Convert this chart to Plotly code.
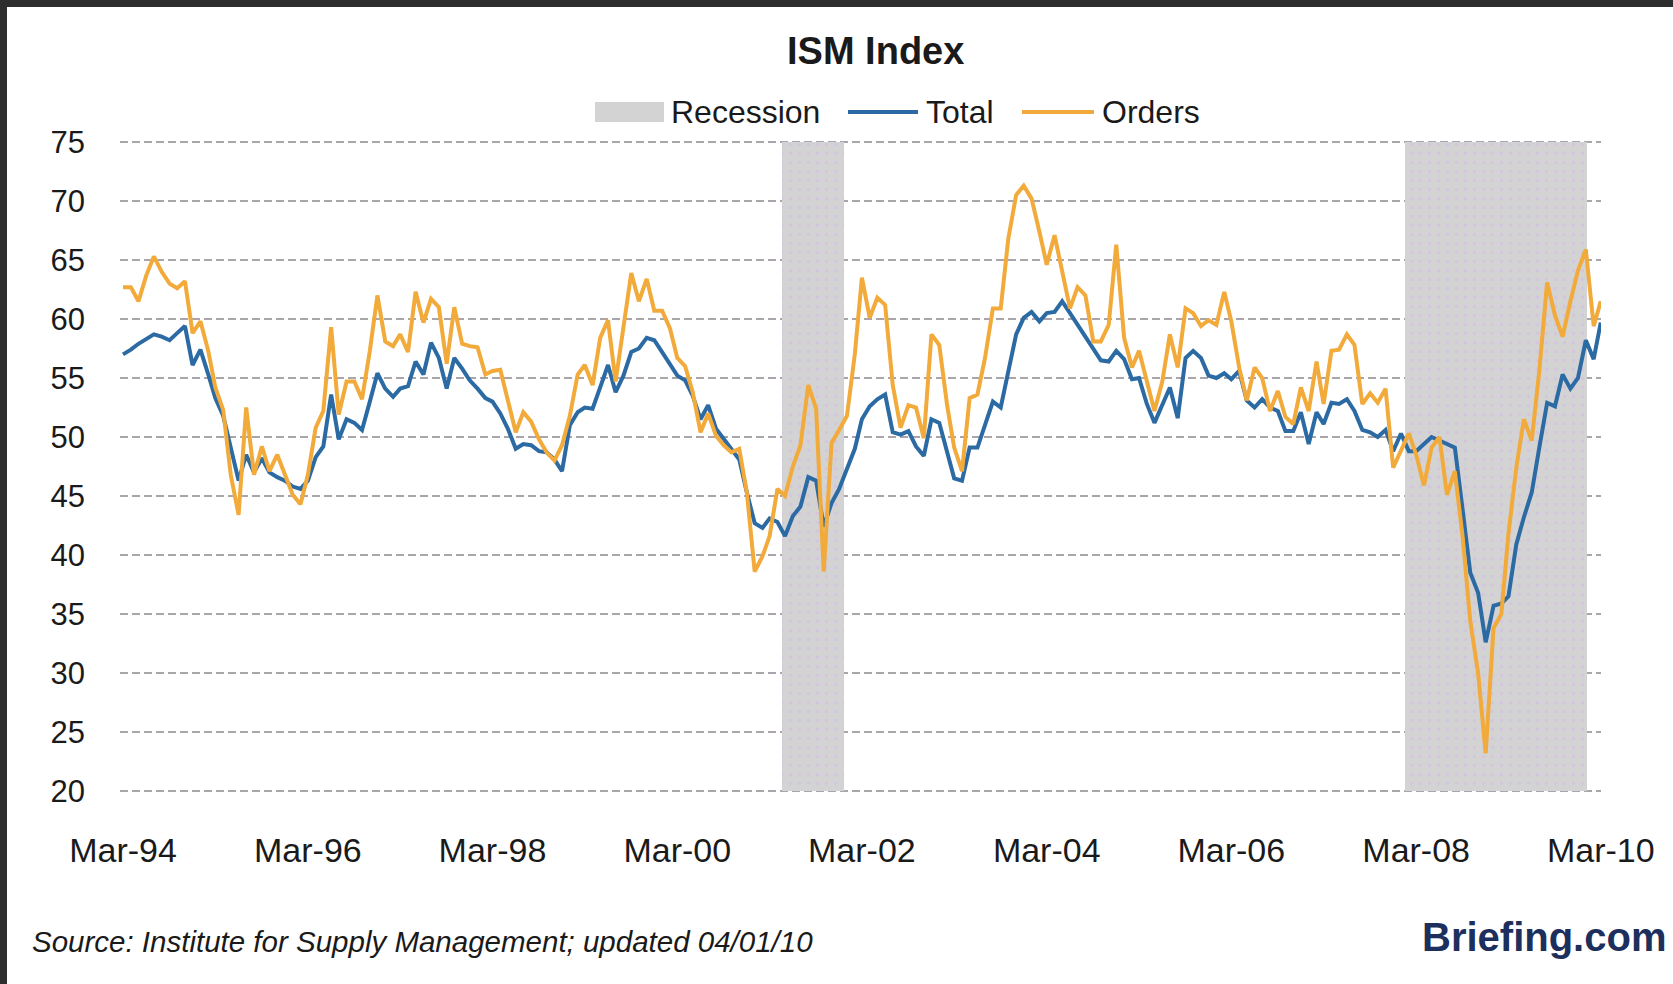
import pandas as pd
import plotly.graph_objects as go

# ---------------- data ----------------
start_month = "1994-03-01"   # first observation (Mar-94), monthly through Mar-10

total = [57.0, 57.4, 57.9, 58.3, 58.7, 58.5, 58.2, 58.8, 59.4, 56.1,
         57.4, 55.3, 53.3, 51.8, 49.1, 46.3, 48.5, 47.0, 48.2, 47.0,
         46.6, 46.3, 45.8, 45.6, 46.3, 48.3, 49.2, 53.6, 49.8, 51.5,
         51.2, 50.6, 53.0, 55.4, 54.1, 53.4, 54.1, 54.3, 56.4, 55.3,
         58.0, 56.7, 54.1, 56.7, 55.8, 54.8, 54.1, 53.3, 53.0, 52.0,
         50.7, 49.0, 49.4, 49.3, 48.8, 48.7, 48.1, 47.1, 51.0, 52.1,
         52.5, 52.4, 54.2, 56.1, 53.8, 55.2, 57.2, 57.5, 58.4, 58.2,
         57.2, 56.1, 55.2, 54.8, 53.5, 51.5, 52.7, 50.7, 49.8, 49.0,
         48.1, 45.3, 42.7, 42.3, 43.1, 42.8, 41.6, 43.3, 44.1, 46.6,
         46.3, 42.4, 44.4, 45.6, 47.3, 49.0, 51.5, 52.6, 53.2, 53.6,
         50.4, 50.2, 50.5, 49.2, 48.4, 51.5, 51.2, 48.8, 46.5, 46.3,
         49.1, 49.1, 51.1, 53.0, 52.5, 55.6, 58.7, 60.1, 60.6, 59.8,
         60.5, 60.6, 61.5, 60.5, 59.5, 58.4, 57.4, 56.5, 56.4, 57.3,
         56.6, 54.9, 55.0, 52.8, 51.2, 52.8, 54.2, 51.6, 56.7, 57.3,
         56.7, 55.2, 55.0, 55.4, 54.9, 55.6, 53.1, 52.5, 53.2, 52.5,
         52.2, 50.5, 50.5, 52.1, 49.4, 52.1, 51.1, 52.9, 52.8, 53.2,
         52.2, 50.6, 50.4, 50.0, 50.6, 48.8, 50.3, 48.8, 48.8, 49.4,
         50.0, 49.7, 49.4, 49.1, 43.8, 38.5, 36.8, 32.6, 35.7, 35.9,
         36.5, 40.9, 43.2, 45.3, 49.1, 52.9, 52.6, 55.3, 54.1, 55.0,
         58.2, 56.6, 59.7]

orders = [62.7, 62.7, 61.5, 63.7, 65.3, 64.0, 63.0, 62.6, 63.2, 58.8,
          59.8, 57.3, 54.2, 52.3, 46.8, 43.4, 52.5, 46.8, 49.2, 47.1,
          48.5, 46.8, 45.1, 44.3, 46.8, 50.8, 52.2, 59.3, 51.9, 54.7,
          54.7, 53.2, 57.3, 62.0, 58.1, 57.7, 58.7, 57.2, 62.3, 59.7,
          61.7, 61.0, 56.2, 61.0, 57.9, 57.7, 57.6, 55.3, 55.6, 55.7,
          53.0, 50.4, 52.1, 51.3, 49.8, 48.7, 48.0, 49.3, 51.8, 55.3,
          56.1, 54.4, 58.4, 59.9, 54.7, 59.5, 63.9, 61.5, 63.4, 60.7,
          60.7, 59.2, 56.7, 56.0, 53.8, 50.4, 52.0, 50.1, 49.3, 48.7,
          49.0, 45.3, 38.6, 39.9, 41.6, 45.6, 45.0, 47.5, 49.3, 54.4,
          52.4, 38.6, 49.5, 50.6, 51.8, 57.0, 63.5, 60.1, 61.8, 61.2,
          54.4, 50.8, 52.7, 52.5, 49.9, 58.7, 57.8, 52.7, 49.1, 47.1,
          53.3, 53.6, 56.7, 60.9, 60.9, 66.8, 70.5, 71.3, 70.2, 67.4,
          64.6, 67.1, 64.0, 60.9, 62.7, 62.0, 58.1, 58.1, 59.5, 66.3,
          58.4, 55.9, 57.3, 54.7, 52.2, 54.7, 58.7, 55.9, 60.9, 60.5,
          59.4, 59.9, 59.5, 62.3, 59.8, 55.9, 53.1, 55.9, 55.0, 52.2,
          53.9, 51.7, 51.1, 54.2, 52.2, 56.4, 52.8, 57.3, 57.4, 58.7,
          57.8, 52.8, 53.7, 52.9, 54.1, 47.4, 48.8, 50.3, 48.5, 45.9,
          49.1, 50.0, 45.1, 47.1, 41.5, 34.4, 30.0, 23.2, 33.8, 35.0,
          41.8, 47.4, 51.5, 49.7, 55.6, 63.1, 60.3, 58.5, 61.5, 64.1,
          65.9, 59.4, 61.5]

recession_start = ["2001-04-20", "2008-01-18"]
recession_end = ["2001-12-21", "2010-01-07"]

tick_dates = ["1994-03-01", "1996-03-01", "1998-03-01", "2000-03-01", "2002-03-01",
              "2004-03-01", "2006-03-01", "2008-03-01", "2010-03-01"]
tick_labels = ["Mar-94", "Mar-96", "Mar-98", "Mar-00", "Mar-02",
               "Mar-04", "Mar-06", "Mar-08", "Mar-10"]

series_names = ["Recession", "Total", "Orders"]
series_colors = ["#d3d3d4", "#2b6aa3", "#f2aa3a"]

y_min, y_max = 20, 75

# ---------------- build ----------------
dates = pd.date_range(start_month, periods=len(total), freq="MS")
rs = pd.to_datetime(recession_start)
re_ = pd.to_datetime(recession_end)
rec_center = rs + (re_ - rs) / 2
rec_width = [(e - s).total_seconds() * 1000 for s, e in zip(rs, re_)]

FONT = "Liberation Sans"
TXT = "#1a1a1a"
fig = go.Figure()

fig.add_trace(go.Bar(
    x=rec_center, y=[y_max - y_min] * len(rs), base=[y_min] * len(rs), width=rec_width,
    name=series_names[0], showlegend=False,
    marker=dict(color=series_colors[0], line=dict(width=0),
                pattern=dict(shape=".", fgcolor="#d4b8e8", size=9, solidity=0.12)),
    hoverinfo="skip"))
fig.add_trace(go.Scatter(x=dates, y=total, name=series_names[1], mode="lines", showlegend=False,
                         line=dict(color=series_colors[1], width=4)))
fig.add_trace(go.Scatter(x=dates, y=orders, name=series_names[2], mode="lines", showlegend=False,
                         line=dict(color=series_colors[2], width=4)))

L, R, T, B = 120, 72, 140, 191
W, H = 1673, 984
pw, ph = W - L - R, H - T - B


def px(xp):
    return (xp - L) / pw


def py(yp):
    return (H - B - yp) / ph


# legend drawn as shapes + text (wide swatches like the original)
leg_y = 112
legend_shapes = [
    dict(type="rect", xref="paper", yref="paper", x0=px(595), x1=px(664), y0=py(122), y1=py(102),
         fillcolor=series_colors[0], line=dict(width=0)),
    dict(type="line", xref="paper", yref="paper", x0=px(848), x1=px(918), y0=py(leg_y), y1=py(leg_y),
         line=dict(color=series_colors[1], width=4)),
    dict(type="line", xref="paper", yref="paper", x0=px(1022), x1=px(1094), y0=py(leg_y), y1=py(leg_y),
         line=dict(color=series_colors[2], width=4)),
]
legend_text = [
    dict(text=series_names[0], x=px(669), y=py(leg_y), xref="paper", yref="paper", showarrow=False,
         xanchor="left", yanchor="middle", font=dict(size=32, family=FONT, color=TXT)),
    dict(text=series_names[1], x=px(924), y=py(leg_y), xref="paper", yref="paper", showarrow=False,
         xanchor="left", yanchor="middle", font=dict(size=32, family=FONT, color=TXT)),
    dict(text=series_names[2], x=px(1100), y=py(leg_y), xref="paper", yref="paper", showarrow=False,
         xanchor="left", yanchor="middle", font=dict(size=32, family=FONT, color=TXT)),
]

fig.update_layout(
    width=W, height=H,
    margin=dict(l=L, r=R, t=T, b=B, pad=0),
    paper_bgcolor="white", plot_bgcolor="white",
    font=dict(family=FONT, size=30, color=TXT),
    barmode="overlay", bargap=0,
    showlegend=False,
    xaxis=dict(type="date", range=["1994-02-17", "2010-03-02"],
               tickmode="array", tickvals=tick_dates, ticktext=tick_labels,
               showgrid=False, zeroline=False, showline=False, ticks="",
               ticklabelstandoff=34, tickfont=dict(size=34, family=FONT, color=TXT)),
    yaxis=dict(range=[y_min - 0.17, y_max + 0.17], tickmode="linear", tick0=20, dtick=5,
               showgrid=True, gridcolor="#a9a5aa", gridwidth=2, griddash="8px,4px",
               zeroline=False, showline=False, ticks="",
               ticklabelstandoff=34, tickfont=dict(size=31, family=FONT, color=TXT)),
    annotations=[
        dict(text="<b>ISM Index</b>", x=px(875), y=py(51), xref="paper", yref="paper",
             showarrow=False, xanchor="center", yanchor="middle",
             font=dict(size=38, family=FONT, color=TXT)),
        dict(text="<i>Source: Institute for Supply Management; updated 04/01/10</i>",
             x=px(30), y=py(941), xref="paper", yref="paper", showarrow=False,
             xanchor="left", yanchor="middle", font=dict(size=29.5, family=FONT, color=TXT)),
        dict(text="<b>Briefing.com</b>", x=px(1668), y=py(937), xref="paper", yref="paper",
             showarrow=False, xanchor="right", yanchor="middle",
             font=dict(size=40, family=FONT, color="#1d2f5c")),
    ] + legend_text,
    shapes=[
        dict(type="rect", xref="paper", yref="paper", x0=px(0), x1=px(W), y0=py(7), y1=py(0),
             fillcolor="#2e2e2e", line=dict(width=0), layer="above"),
        dict(type="rect", xref="paper", yref="paper", x0=px(0), x1=px(7), y0=py(H), y1=py(0),
             fillcolor="#2e2e2e", line=dict(width=0), layer="above"),
    ] + legend_shapes,
)

fig.write_html("out.html", config={"displayModeBar": False},
               post_script="document.body.style.margin='0';")
